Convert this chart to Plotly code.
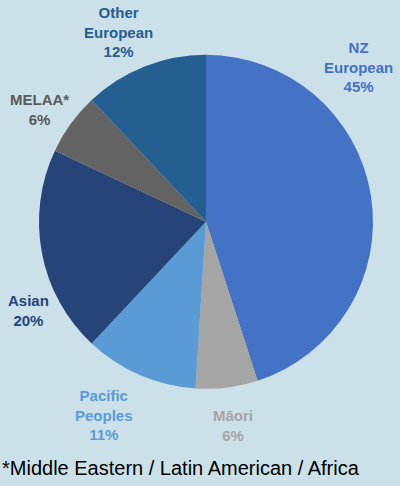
import plotly.graph_objects as go

labels = ["NZ<br>European", "Māori", "Pacific<br>Peoples", "Asian", "MELAA*", "Other<br>European"]
values = [45, 6, 11, 20, 6, 12]
colors = ["#4472C4", "#A5A5A5", "#5B9BD5", "#264478", "#636363", "#255E91"]
text_colors = ["#4472C4", "#A5A5A5", "#5B9BD5", "#264478", "#5a5a5a", "#255E91"]
# label centres in pixels of the 400x486 picture
label_px = [(358, 67), (233, 425), (104, 415), (29, 310), (39, 110), (118, 32)]

fig = go.Figure(go.Pie(
    labels=labels, values=values, sort=False, direction="clockwise", rotation=0,
    marker=dict(colors=colors, line=dict(width=0)),
    textinfo="none",
    domain=dict(x=[0.0975, 0.9325], y=[0.198, 0.889]),
    showlegend=False, hoverinfo="skip",
))
for lab, v, c, (px, py) in zip(labels, values, text_colors, label_px):
    fig.add_annotation(text=f"<b>{lab}<br>{v}%</b>", x=px / 400, y=1 - py / 486,
                       xref="paper", yref="paper", xanchor="center", yanchor="middle",
                       showarrow=False, align="center",
                       font=dict(size=15, color=c, family="Liberation Sans"))
fig.add_annotation(text="*Middle Eastern / Latin American / Africa", x=0.0, y=1 - 468 / 486,
                   xref="paper", yref="paper", xanchor="left", yanchor="middle", showarrow=False,
                   font=dict(size=20, color="black", family="Liberation Sans"))
fig.update_layout(width=400, height=486, margin=dict(l=0, r=0, t=0, b=0),
                  paper_bgcolor="#CCE0E9", plot_bgcolor="#CCE0E9")
fig.write_html("out.html", config={"displayModeBar": False},
               post_script="document.body.style.margin='0';")
